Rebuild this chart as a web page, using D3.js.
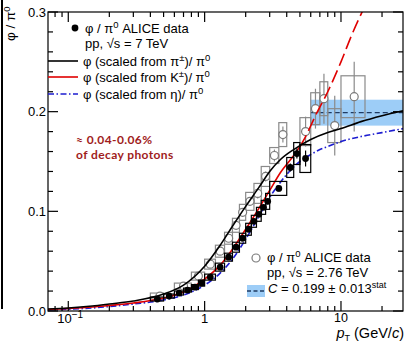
<!DOCTYPE html>
<html>
<head>
<meta charset="utf-8">
<script src="https://cdn.jsdelivr.net/npm/d3@7"></script>
<style>
html,body{margin:0;padding:0;background:#fff;}
svg{display:block;font-family:"Liberation Sans",Arial,sans-serif;}
</style>
</head>
<body>
<svg id="chart" width="405" height="342"></svg>
<script>
// ---------------- data ----------------
// model curves (pT in GeV/c, phi/pi0)
const piPt  = [0.071,0.1,0.15,0.2,0.3,0.5,0.7,1,1.3,1.6,2,2.5,3,3.6,4.5,6,8,10,14,20,28.5];
const piVal = [0.002,0.003,0.005,0.007,0.010,0.017,0.026,0.045,0.066,0.085,0.105,0.124,0.140,0.152,0.162,0.172,0.179,0.183,0.190,0.196,0.201];

const kPt   = [0.071,0.1,0.15,0.2,0.3,0.5,0.7,1,1.3,1.6,2,2.5,3,3.6,4.5,5,5.5,6.5,8,10,12,14.5];
const kVal  = [0.0015,0.0025,0.004,0.0055,0.008,0.013,0.019,0.032,0.046,0.062,0.082,0.103,0.121,0.139,0.156,0.165,0.175,0.196,0.220,0.250,0.277,0.302];
const kSolidMax = 5.0; // K-scaled curve drawn dashed above this pT

const etaPt  = [0.071,0.1,0.15,0.2,0.3,0.5,0.7,1,1.3,1.6,2,2.5,3,3.5,4,5,6,7,8,10,14,20,28.5];
const etaVal = [0.001,0.0018,0.003,0.0045,0.007,0.011,0.016,0.026,0.038,0.052,0.072,0.095,0.114,0.127,0.137,0.150,0.157,0.162,0.165,0.170,0.175,0.179,0.183];

// ALICE phi/pi0, pp 7 TeV
const pp7Lo   = [0.4,0.5,0.6,0.7,0.8,0.9,1.0,1.2,1.4,1.6,1.8,2.0,2.2,2.4,2.6,2.8,3.0,4.0,4.5,5.0];
const pp7Hi   = [0.5,0.6,0.7,0.8,0.9,1.0,1.2,1.4,1.6,1.8,2.0,2.2,2.4,2.6,2.8,3.0,4.0,4.5,5.0,6.0];
const pp7Val  = [0.012,0.015,0.018,0.021,0.024,0.028,0.034,0.044,0.054,0.064,0.073,0.082,0.090,0.097,0.104,0.110,0.123,0.144,0.158,0.153];
const pp7Sys  = [0.002,0.002,0.002,0.002,0.0025,0.003,0.003,0.004,0.004,0.005,0.005,0.006,0.006,0.007,0.007,0.008,0.007,0.010,0.011,0.014];
const pp7Stat = [0.001,0.001,0.001,0.001,0.001,0.001,0.001,0.001,0.0015,0.0015,0.0015,0.002,0.002,0.002,0.002,0.003,0.003,0.004,0.005,0.008];

// ALICE phi/pi0, pp 2.76 TeV
const pp276Lo   = [0.4,0.6,0.8,1.0,1.2,1.4,1.6,1.8,2.0,2.3,2.6,3.0,3.5,5.0,6.0,7.0,8.0,10.0];
const pp276Hi   = [0.5,0.8,1.0,1.2,1.4,1.6,1.8,2.0,2.3,2.6,3.0,3.5,4.0,6.0,7.0,8.0,10.0,15.0];
const pp276Pt   = [0.47,0.7,0.9,1.1,1.3,1.5,1.7,1.9,2.15,2.45,2.8,3.25,3.75,5.5,6.5,7.5,9.0,12.5];
const pp276Val  = [0.015,0.025,0.035,0.047,0.060,0.073,0.086,0.099,0.110,0.118,0.135,0.156,0.177,0.180,0.203,0.213,0.186,0.215];
const pp276Sys  = [0.003,0.003,0.004,0.005,0.006,0.006,0.007,0.008,0.009,0.010,0.010,0.008,0.012,0.014,0.016,0.017,0.017,0.021];
const pp276Stat = [0.001,0.001,0.002,0.002,0.002,0.003,0.003,0.004,0.004,0.005,0.005,0.006,0.008,0.015,0.020,0.025,0.030,0.035];

// constant fit to 2.76 TeV high-pT points
const fitC = 0.199, fitErr = 0.013, fitFrom = 6.0, fitTo = 28.5;

// axes
const xDomain = [0.071, 28.5];
const yDomain = [0, 0.3];
const xMajor = [0.1, 1, 10];
const xMinor = [0.08,0.09,0.2,0.3,0.4,0.5,0.6,0.7,0.8,0.9,2,3,4,5,6,7,8,9,20];
const yMajor = [0, 0.1, 0.2, 0.3];
const yMinor = [0.02,0.04,0.06,0.08,0.12,0.14,0.16,0.18,0.22,0.24,0.26,0.28];
const yLabels = ["0.0","0.1","0.2","0.3"];

// ---------------- drawing ----------------
const svg = d3.select("#chart");
const L = 48, R = 403, T = 12, B = 311;
const x = d3.scaleLog().domain(xDomain).range([L, R]);
const y = d3.scaleLinear().domain(yDomain).range([B, T]);

svg.append("defs").append("clipPath").attr("id","clip")
  .append("rect").attr("x",L).attr("y",T).attr("width",R-L).attr("height",B-T);

// stray border of neighbouring panel
svg.append("line").attr("x1",2).attr("x2",2).attr("y1",0).attr("y2",309)
  .attr("stroke","#000").attr("stroke-width",2);

const plot = svg.append("g").attr("clip-path","url(#clip)");

// fit band
plot.append("rect")
  .attr("x", x(fitFrom)).attr("width", x(fitTo) - x(fitFrom))
  .attr("y", y(fitC + fitErr)).attr("height", y(fitC - fitErr) - y(fitC + fitErr))
  .attr("fill", "#9dcdf7");
plot.append("line")
  .attr("x1", x(fitFrom)).attr("x2", x(fitTo)).attr("y1", y(fitC)).attr("y2", y(fitC))
  .attr("stroke", "#1f3b63").attr("stroke-width", 1.3).attr("stroke-dasharray","5,3");

// 2.76 TeV data
const d276 = pp276Pt.map((p,i)=>({p, lo:pp276Lo[i], hi:pp276Hi[i], v:pp276Val[i], sys:pp276Sys[i], st:pp276Stat[i]}));
const g276 = plot.append("g");
g276.selectAll("rect").data(d276).join("rect")
  .attr("x", d=>x(d.lo)).attr("width", d=>x(d.hi)-x(d.lo))
  .attr("y", d=>y(d.v+d.sys)).attr("height", d=>y(d.v-d.sys)-y(d.v+d.sys))
  .attr("fill","none").attr("stroke","#8a8a8a").attr("stroke-width",1.2);
g276.selectAll("line").data(d276).join("line")
  .attr("x1", d=>x(d.p)).attr("x2", d=>x(d.p))
  .attr("y1", d=>y(d.v+d.st)).attr("y2", d=>y(d.v-d.st))
  .attr("stroke","#8a8a8a").attr("stroke-width",1.2);
g276.selectAll("circle").data(d276).join("circle")
  .attr("cx", d=>x(d.p)).attr("cy", d=>y(d.v)).attr("r",4)
  .attr("fill","#fff").attr("stroke","#7a7a7a").attr("stroke-width",1.2);

// curves
const line = d3.line().x(d=>x(d[0])).y(d=>y(d[1])).curve(d3.curveMonotoneX);
const piData  = piPt.map((p,i)=>[p,piVal[i]]);
const kData   = kPt.map((p,i)=>[p,kVal[i]]);
const etaData = etaPt.map((p,i)=>[p,etaVal[i]]);

plot.append("path").attr("d", line(etaData)).attr("fill","none")
  .attr("stroke","#1c1cd0").attr("stroke-width",1.6).attr("stroke-dasharray","6,2.5,1.5,2.5");
plot.append("path").attr("d", line(kData.filter(d=>d[0]<=kSolidMax))).attr("fill","none")
  .attr("stroke","#e00000").attr("stroke-width",1.6);
plot.append("path").attr("d", line(kData.filter(d=>d[0]>=kSolidMax))).attr("fill","none")
  .attr("stroke","#e00000").attr("stroke-width",1.6).attr("stroke-dasharray","13,5");
plot.append("path").attr("d", line(piData)).attr("fill","none")
  .attr("stroke","#000").attr("stroke-width",1.6);

// 7 TeV data
const d7 = pp7Lo.map((lo,i)=>({lo, hi:pp7Hi[i], p:(lo+pp7Hi[i])/2, v:pp7Val[i], sys:pp7Sys[i], st:pp7Stat[i]}));
const g7 = plot.append("g");
g7.selectAll("rect").data(d7).join("rect")
  .attr("x", d=>x(d.lo)).attr("width", d=>x(d.hi)-x(d.lo))
  .attr("y", d=>y(d.v+d.sys)).attr("height", d=>y(d.v-d.sys)-y(d.v+d.sys))
  .attr("fill","none").attr("stroke","#000").attr("stroke-width",1.2);
g7.selectAll("line").data(d7).join("line")
  .attr("x1", d=>x(d.p)).attr("x2", d=>x(d.p))
  .attr("y1", d=>y(d.v+d.st)).attr("y2", d=>y(d.v-d.st))
  .attr("stroke","#000").attr("stroke-width",1.2);
g7.selectAll("circle").data(d7).join("circle")
  .attr("cx", d=>x(d.p)).attr("cy", d=>y(d.v)).attr("r",3.4).attr("fill","#000");

// frame & ticks
const axG = svg.append("g").attr("stroke","#000").attr("stroke-width",1.2);
axG.append("rect").attr("x",L).attr("y",T).attr("width",R-L).attr("height",B-T).attr("fill","none");
function xt(vals, len){
  vals.forEach(v=>{
    axG.append("line").attr("x1",x(v)).attr("x2",x(v)).attr("y1",B).attr("y2",B-len);
    axG.append("line").attr("x1",x(v)).attr("x2",x(v)).attr("y1",T).attr("y2",T+len);
  });
}
function yt(vals, len){
  vals.forEach(v=>{
    axG.append("line").attr("x1",L).attr("x2",L+len).attr("y1",y(v)).attr("y2",y(v));
    axG.append("line").attr("x1",R).attr("x2",R-len).attr("y1",y(v)).attr("y2",y(v));
  });
}
xt(xMajor, 10); xt(xMinor, 5);
yt(yMajor, 10); yt(yMinor, 5);

// tick labels
const fs = 13;
yMajor.forEach((v,i)=>{
  svg.append("text").attr("x",46).attr("y",y(v)+4.5).attr("text-anchor","end")
    .attr("font-size",fs).text(yLabels[i]);
});
// x labels
const t0 = svg.append("text").attr("x",x(0.1)-11).attr("y",323).attr("font-size",fs);
t0.append("tspan").text("10");
t0.append("tspan").attr("dy",-5).attr("font-size",10).text("\u22121");
svg.append("text").attr("x",x(1)).attr("y",323).attr("text-anchor","middle").attr("font-size",fs).text("1");
svg.append("text").attr("x",x(10)).attr("y",322).attr("text-anchor","middle").attr("font-size",12.5).text("10");

// axis titles
const xt2 = svg.append("text").attr("x",404).attr("y",338).attr("text-anchor","end").attr("font-size",14.5);
xt2.append("tspan").attr("font-style","italic").text("p");
xt2.append("tspan").attr("dy",3).attr("font-size",9).text("T");
xt2.append("tspan").attr("dy",-3).text(" (GeV/");
xt2.append("tspan").attr("font-style","italic").text("c");
xt2.append("tspan").text(")");

const yt2 = svg.append("text").attr("transform","translate(15,41) rotate(-90)").attr("font-size",13.5);
yt2.append("tspan").text("\u03c6 / \u03c0");
yt2.append("tspan").attr("dy",-5).attr("font-size",9.5).text("0");

// top legend
svg.append("circle").attr("cx",75).attr("cy",28).attr("r",3.4).attr("fill","#000");
function phiPi(sel, xx, yy, pre, post){
  const t = svg.append("text").attr("x",xx).attr("y",yy).attr("font-size",fs);
  t.append("tspan").text(pre + "\u03c0");
  t.append("tspan").attr("dy",-5).attr("font-size",9.5).text("0");
  t.append("tspan").attr("dy",5).text(post);
  return t;
}
phiPi(svg, 85, 33, "\u03c6 / ", " ALICE data");
svg.append("text").attr("x",85).attr("y",48).attr("font-size",fs).text("pp, \u221as = 7 TeV");

const legItems = [
  {y:61, stroke:"#000", dash:null, from:"\u03c0", sup:"\u00b1"},
  {y:77, stroke:"#e00000", dash:null, from:"K", sup:"\u00b1"},
  {y:94, stroke:"#1c1cd0", dash:"6,2.5,1.5,2.5", from:"\u03b7", sup:null}
];
legItems.forEach(it=>{
  const ln = svg.append("line").attr("x1",48).attr("x2",78).attr("y1",it.y).attr("y2",it.y)
    .attr("stroke",it.stroke).attr("stroke-width",1.6);
  if(it.dash) ln.attr("stroke-dasharray",it.dash);
  const t = svg.append("text").attr("x",83).attr("y",it.y+5).attr("font-size",fs);
  t.append("tspan").text("\u03c6 (scaled from " + it.from);
  if(it.sup){
    t.append("tspan").attr("dy",-5).attr("font-size",9.5).text(it.sup);
    t.append("tspan").attr("dy",5).text(")/ \u03c0");
  } else {
    t.append("tspan").text(")/ \u03c0");
  }
  t.append("tspan").attr("dy",-5).attr("font-size",9.5).text("0");
});

// annotation
svg.append("text").attr("x",76).attr("y",144).attr("font-size",12).attr("font-weight","bold")
  .attr("letter-spacing",0.4)
  .attr("font-family","Lato, 'DejaVu Sans', sans-serif").attr("fill","#a01c1c").text("\u2248 0.04-0.06%");
svg.append("text").attr("x",76).attr("y",159).attr("font-size",12).attr("font-weight","bold")
  .attr("letter-spacing",0.4)
  .attr("font-family","Lato, 'DejaVu Sans', sans-serif").attr("fill","#a01c1c").text("of decay photons");

// bottom legend
svg.append("circle").attr("cx",256).attr("cy",258).attr("r",4).attr("fill","#fff")
  .attr("stroke","#7a7a7a").attr("stroke-width",1.2);
phiPi(svg, 267, 262, "\u03c6 / ", " ALICE data");
svg.append("text").attr("x",267).attr("y",277).attr("font-size",fs).text("pp, \u221as = 2.76 TeV");
svg.append("rect").attr("x",247).attr("y",285).attr("width",18).attr("height",12).attr("fill","#9dcdf7");
svg.append("line").attr("x1",247).attr("x2",265).attr("y1",291).attr("y2",291)
  .attr("stroke","#1f3b63").attr("stroke-width",1.3).attr("stroke-dasharray","4,2.5");
const ct = svg.append("text").attr("x",268).attr("y",293).attr("font-size",fs);
ct.append("tspan").attr("font-style","italic").text("C");
ct.append("tspan").text(" = " + fitC.toFixed(3) + " \u00b1 " + fitErr.toFixed(3));
ct.append("tspan").attr("dy",-5).attr("font-size",9).text("stat");
</script>
</body>
</html>
